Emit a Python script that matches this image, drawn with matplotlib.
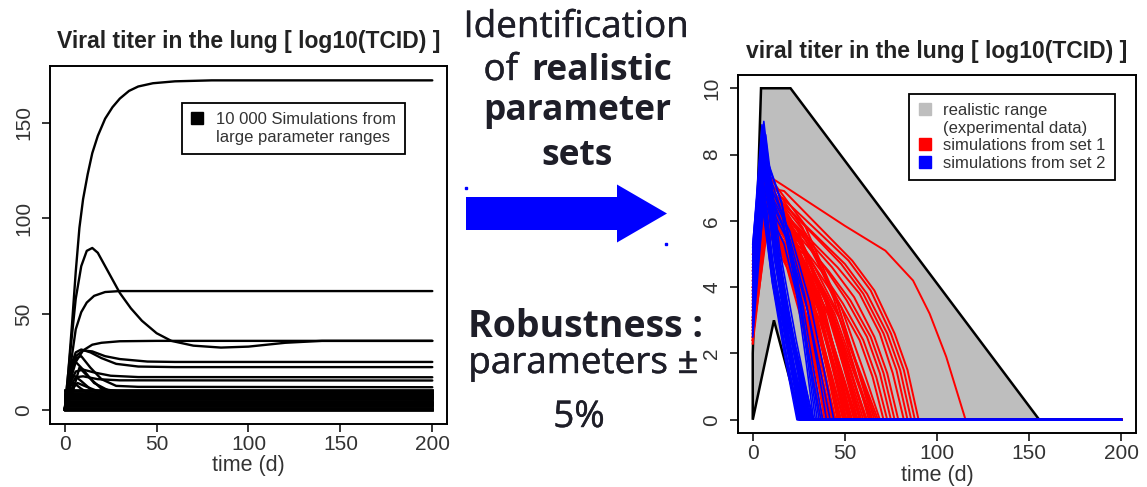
"""Viral titer simulations: all parameter sets vs. realistic ones (two R-style panels)."""
import matplotlib
matplotlib.use("Agg")
import matplotlib.pyplot as plt
import matplotlib.patheffects as pe
from matplotlib.lines import Line2D
from matplotlib.patches import FancyArrow, Polygon

plt.rcParams["font.family"] = ["Liberation Sans", "DejaVu Sans"]

# ---------------- left panel: 10 000 simulations, large parameter ranges
LEFT_CURVES = [
    [(0, 0), (2, 20), (4, 45), (6, 72), (8, 95), (10, 110), (12.5, 123), (15, 134), (18, 143),
     (22, 152), (26, 158), (30, 162.5), (35, 166.5), (40, 168.8), (48, 170.5), (60, 171.5),
     (80, 172), (200, 172)],
    [(0, 0), (3, 30), (6, 58), (9, 75), (12, 83), (15, 84.5), (18, 82), (22, 75), (26, 68),
     (30, 61), (36, 53), (42, 46.5), (50, 40), (58, 36), (70, 33.5), (85, 32.5), (100, 33),
     (120, 35), (140, 36), (200, 36)],
    [(0, 0), (3, 22), (6, 42), (9, 51), (12, 56), (16, 59.5), (22, 61.5), (30, 62), (200, 62)],
    [(0, 0), (3, 15), (6, 25), (10, 31), (15, 34), (20, 35), (30, 35.8), (50, 36), (200, 36)],
    [(0, 0), (3, 20), (6, 28), (10, 31), (15, 30.5), (22, 28), (30, 26.5), (45, 25.2), (60, 25), (200, 25)],
    [(0, 0), (3, 22), (6, 30), (9, 31.5), (14, 30), (20, 27), (28, 24), (40, 22.6), (60, 22.3), (200, 22.3)],
    [(0, 0), (3, 14), (6, 20), (10, 21), (16, 19.5), (25, 17.8), (40, 17.1), (200, 17)],
    [(0, 0), (3, 12), (6, 17), (10, 17.5), (18, 16), (30, 15.4), (200, 15.3)],
    [(0, 0), (3, 18), (6, 27), (9, 28), (14, 22), (20, 16), (28, 12.5), (40, 12), (200, 11.8)],
    [(0, 0), (3, 20), (6, 25), (10, 21), (16, 14), (24, 10), (35, 8.5), (200, 8)],
    [(0, 0), (2, 12), (5, 18), (9, 15), (15, 10), (25, 7), (200, 6.5)],
    [(0, 0), (3, 10), (7, 14), (12, 12), (20, 9), (200, 8.8)],
    [(0, 0), (4, 8), (8, 22), (12, 18), (20, 11), (30, 9.5), (200, 9)],
    [(0, 0), (2, 6), (5, 14), (9, 11), (16, 7), (200, 5.5)],
]
BAND_T = [0, 200]
BAND_LEVELS = [0.0, 0.6, 1.2, 1.8, 2.4, 3.0, 3.6, 4.2, 4.8, 5.4, 6.0, 6.6, 7.2, 7.8, 8.4, 9.0, 9.6, 10.2]

# ---------------- right panel: realistic range and retained parameter sets
RANGE_T = [0, 0, 4.5, 20.5, 155.5, 26, 11.5, 0]
RANGE_Y = [0, 2, 10, 10, 0, 0, 3, 0]

RED_SIMS = [
    [(0, 2.5), (6, 6.8), (10, 7.3), (17, 7.05), (50, 5.85), (72, 5.1), (87, 4.2), (96, 3.2), (105, 1.9), (115.5, 0), (200, 0)],
    [(0, 3.0), (8, 7.0), (17, 6.9), (54, 4.8), (66, 3.9), (77, 2.6), (84, 1.5), (90, 0), (200, 0)],
    [(0, 2.8), (7, 6.6), (16, 6.7), (52, 4.8), (64, 3.9), (75, 2.6), (82, 1.5), (88, 0), (200, 0)],
    [(0, 3.4), (8, 6.9), (15, 6.6), (50, 4.7), (62, 3.8), (73, 2.6), (80, 1.5), (86, 0), (200, 0)],
    [(0, 2.6), (7, 7.1), (17, 6.5), (48, 4.7), (60, 3.8), (71, 2.6), (78, 1.5), (84, 0), (200, 0)],
    [(0, 3.8), (6, 6.4), (14, 6.4), (46, 4.6), (58, 3.8), (69, 2.6), (76, 1.4), (82, 0), (200, 0)],
    [(0, 2.4), (8, 6.8), (16, 6.3), (43, 4.6), (55, 3.7), (66, 2.5), (73, 1.4), (79, 0), (200, 0)],
    [(0, 4.2), (7, 6.5), (15, 6.2), (41, 4.5), (53, 3.6), (64, 2.5), (71, 1.4), (77, 0), (200, 0)],
    [(0, 3.1), (9, 7.2), (16, 6.4), (39, 4.6), (51, 3.6), (62, 2.5), (69, 1.4), (75, 0), (200, 0)],
    [(0, 2.9), (8, 6.6), (15, 6.1), (37, 4.5), (49, 3.5), (60, 2.4), (67, 1.3), (73, 0), (200, 0)],
    [(0, 3.6), (7, 6.9), (14, 6.3), (35, 4.5), (47, 3.5), (58, 2.4), (65, 1.3), (71, 0), (200, 0)],
    [(0, 2.5), (8, 6.8), (29, 5.4), (48, 3.4), (60, 1.5), (69, 0), (200, 0)],
    [(0, 3.3), (7, 6.2), (28.4, 4.95), (46.7, 3.1), (58.9, 1.35), (68, 0), (200, 0)],
    [(0, 4.0), (7, 6.5), (28, 5.2), (46, 3.25), (58, 1.4), (67, 0), (200, 0)],
    [(0, 3.0), (9, 7.0), (29, 5.6), (46, 3.5), (57.5, 1.5), (66, 0), (200, 0)],
    [(0, 3.9), (8, 7.4), (28, 5.9), (45, 3.7), (56.5, 1.6), (65, 0), (200, 0)],
    [(0, 4.5), (7, 6.4), (27.1, 5.1), (44.4, 3.2), (55.9, 1.4), (64.5, 0), (200, 0)],
    [(0, 2.3), (6, 6.2), (26, 5.0), (44, 3.1), (55, 1.4), (64, 0), (200, 0)],
    [(0, 3.5), (8, 7.3), (27, 5.8), (44, 3.65), (55, 1.6), (63, 0), (200, 0)],
    [(0, 4.6), (7, 6.0), (26, 4.8), (43, 3.0), (54, 1.3), (62, 0), (200, 0)],
    [(0, 2.8), (8, 6.6), (26.7, 5.3), (42.8, 3.3), (53.5, 1.45), (61.5, 0), (200, 0)],
    [(0, 2.3), (9, 6.5), (27, 5.2), (43, 3.25), (53, 1.45), (61, 0), (200, 0)],
    [(0, 2.7), (8, 6.6), (26, 5.3), (42, 3.3), (52, 1.45), (60, 0), (200, 0)],
    [(0, 3.2), (6, 6.9), (24.5, 5.5), (40.5, 3.45), (51, 1.5), (59, 0), (200, 0)],
    [(0, 3.3), (7, 6.9), (25, 5.5), (40.5, 3.45), (50.8, 1.5), (58.5, 0), (200, 0)],
    [(0, 4.3), (9, 6.3), (26, 5.0), (41, 3.15), (50.5, 1.4), (58, 0), (200, 0)],
    [(0, 2.4), (7, 7.1), (24.5, 5.7), (39.5, 3.55), (49.5, 1.55), (57, 0), (200, 0)],
    [(0, 4.0), (8, 6.0), (25, 4.8), (39.5, 3.0), (49.2, 1.3), (56.5, 0), (200, 0)],
    [(0, 3.8), (8, 5.9), (25, 4.7), (39, 2.95), (49, 1.3), (56, 0), (200, 0)],
    [(0, 2.7), (6, 6.5), (23.3, 5.2), (38.2, 3.25), (48.1, 1.45), (55.5, 0), (200, 0)],
    [(0, 2.9), (6, 6.7), (23, 5.4), (38, 3.35), (47.5, 1.5), (55, 0), (200, 0)],
    [(0, 5.0), (7, 6.4), (23.5, 5.1), (37.5, 3.2), (47, 1.4), (54, 0), (200, 0)],
    [(0, 3.1), (9, 7.1), (24.6, 5.7), (37.9, 3.55), (46.8, 1.55), (53.5, 0), (200, 0)],
    [(0, 2.6), (8, 7.0), (24, 5.6), (37, 3.5), (46, 1.5), (53, 0), (200, 0)],
    [(0, 4.2), (7, 6.3), (22.9, 5.05), (36.6, 3.15), (45.7, 1.4), (52.5, 0), (200, 0)],
    [(0, 3.4), (6, 6.1), (22, 4.9), (36, 3.05), (45, 1.35), (52, 0), (200, 0)],
    [(0, 4.1), (9, 6.6), (23.5, 5.3), (36.5, 3.3), (44.5, 1.45), (51, 0), (200, 0)],
    [(0, 2.5), (8, 6.8), (22.9, 5.45), (35.6, 3.4), (44.1, 1.5), (50.5, 0), (200, 0)],
    [(0, 2.8), (7, 6.9), (22, 5.5), (35, 3.45), (43.5, 1.5), (50, 0), (200, 0)],
    [(0, 3.5), (6, 6.0), (21.2, 4.8), (34.3, 3.0), (43, 1.3), (49.5, 0), (200, 0)],
    [(0, 3.7), (6, 6.3), (21, 5.0), (34, 3.15), (42.5, 1.4), (49, 0), (200, 0)],
    [(0, 2.5), (8, 5.8), (22, 4.6), (34, 2.9), (42, 1.3), (48, 0), (200, 0)],
    [(0, 2.9), (7, 7.0), (21.2, 5.6), (33.3, 3.5), (41.4, 1.55), (47.5, 0), (200, 0)],
    [(0, 4.5), (7, 6.6), (21, 5.3), (33, 3.3), (41, 1.45), (47, 0), (200, 0)],
    [(0, 4.7), (8, 6.4), (21.5, 5.1), (33, 3.2), (40.7, 1.4), (46.5, 0), (200, 0)],
    [(0, 3.0), (6, 7.2), (20, 5.75), (32, 3.6), (40, 1.6), (46, 0), (200, 0)],
    [(0, 3.3), (8, 6.2), (21, 5.0), (32, 3.1), (39.5, 1.35), (45, 0), (200, 0)],
    [(0, 2.4), (6, 6.2), (19.5, 4.95), (31, 3.1), (38.7, 1.35), (44.5, 0), (200, 0)],
    [(0, 2.7), (7, 6.5), (20, 5.2), (31, 3.25), (38.5, 1.45), (44, 0), (200, 0)],
    [(0, 3.7), (9, 6.9), (21.1, 5.5), (31.4, 3.45), (38.3, 1.5), (43.5, 0), (200, 0)],
    [(0, 4.0), (6, 6.0), (19, 4.8), (30, 3.0), (37.5, 1.3), (43, 0), (200, 0)],
    [(0, 2.4), (7, 6.8), (19, 5.4), (30, 3.4), (37, 1.5), (42, 0), (200, 0)],
    [(0, 3.0), (7, 5.9), (19.1, 4.7), (29.4, 2.95), (36.3, 1.3), (41.5, 0), (200, 0)],
    [(0, 3.6), (6, 6.3), (18, 5.0), (29, 3.15), (36, 1.4), (41, 0), (200, 0)],
    [(0, 4.4), (6, 6.5), (18.1, 5.2), (28.4, 3.25), (35.3, 1.45), (40.5, 0), (200, 0)],
    [(0, 4.8), (8, 5.7), (19, 4.55), (29, 2.85), (35, 1.25), (40, 0), (200, 0)],
    [(0, 2.6), (8, 6.7), (18.9, 5.35), (28.2, 3.35), (34.4, 1.5), (39, 0), (200, 0)],
    [(0, 3.1), (6, 6.4), (17, 5.1), (27, 3.2), (33, 1.4), (38, 0), (200, 0)],
    [(0, 3.9), (7, 6.0), (17.5, 4.8), (26.5, 3.0), (32.5, 1.3), (37, 0), (200, 0)],
]

BLUE_SIMS = [
    [(0, 5.3), (6, 9.0), (13.2, 5.4), (21.6, 2.5), (30, 0), (200, 0)],
    [(0, 4.8), (5, 8.6), (12, 5.2), (20, 2.4), (28, 0), (200, 0)],
    [(0, 3.5), (5, 8.2), (11.6, 4.9), (19.3, 2.3), (27, 0), (200, 0)],
    [(0, 4.2), (6, 8.8), (13, 5.3), (21, 2.5), (29, 0), (200, 0)],
    [(0, 3.0), (4, 7.9), (10.6, 4.7), (18.3, 2.2), (26, 0), (200, 0)],
    [(0, 5.0), (6, 8.4), (13.5, 5.0), (22, 2.35), (31, 0), (200, 0)],
    [(0, 2.8), (7, 8.0), (14.5, 4.8), (23, 2.25), (32, 0), (200, 0)],
    [(0, 4.5), (4, 7.5), (10.3, 4.5), (17.6, 2.1), (25, 0), (200, 0)],
    [(0, 2.6), (5, 7.2), (12, 4.3), (20, 2.0), (28, 0), (200, 0)],
    [(0, 3.8), (6, 7.7), (14, 4.6), (23.5, 2.15), (33, 0), (200, 0)],
    [(0, 5.2), (5, 8.9), (11.6, 5.3), (19.3, 2.5), (27, 0), (200, 0)],
    [(0, 3.3), (5, 6.9), (12.5, 4.1), (21, 1.9), (30, 0), (200, 0)],
    [(0, 4.0), (6, 8.5), (12, 5.1), (19, 2.4), (26, 0), (200, 0)],
    [(0, 2.9), (4, 7.4), (11.5, 4.4), (20, 2.1), (29, 0), (200, 0)],
    [(0, 4.6), (5, 8.1), (12.8, 4.9), (22, 2.3), (31, 0), (200, 0)],
    [(0, 3.6), (5, 6.8), (10.7, 4.1), (17.4, 1.9), (24, 0), (200, 0)],
    [(0, 4.4), (5, 8.7), (11.75, 5.2), (19.6, 2.45), (27.5, 0), (200, 0)],
    [(0, 3.2), (6, 8.3), (13, 5.0), (21.3, 2.3), (29.5, 0), (200, 0)],
    [(0, 5.1), (4, 8.0), (10.75, 4.8), (18.6, 2.25), (26.5, 0), (200, 0)],
    [(0, 2.8), (6, 7.8), (13.6, 4.7), (22.6, 2.2), (31.5, 0), (200, 0)],
    [(0, 3.9), (5, 7.6), (10.9, 4.55), (17.7, 2.1), (24.5, 0), (200, 0)],
    [(0, 4.7), (5, 8.0), (12, 4.8), (20.3, 2.25), (28.5, 0), (200, 0)],
    [(0, 3.7), (7, 8.6), (14.6, 5.15), (23.6, 2.4), (32.5, 0), (200, 0)],
    [(0, 3.4), (4, 7.0), (10.5, 4.2), (18, 2.0), (25.5, 0), (200, 0)],
    [(0, 4.1), (6, 7.5), (13.4, 4.5), (21.9, 2.1), (30.5, 0), (200, 0)],
    [(0, 2.6), (6, 8.1), (15.8, 6.5), (24.2, 4.05), (29.8, 1.8), (34, 0), (200, 0)],
    [(0, 3.1), (6, 7.3), (16.5, 5.85), (25.5, 3.65), (31.5, 1.6), (36, 0), (200, 0)],
    [(0, 4.4), (7, 7.0), (18, 5.6), (27, 3.5), (33, 1.55), (38, 0), (200, 0)],
    [(0, 2.7), (5, 7.6), (17, 6.1), (28, 3.8), (35, 1.7), (40, 0), (200, 0)],
    [(0, 3.9), (6, 6.8), (18.6, 5.45), (29.4, 3.4), (36.6, 1.5), (42, 0), (200, 0)],
    [(0, 3.0), (7, 7.1), (20, 5.7), (31, 3.55), (38.5, 1.55), (44, 0), (200, 0)],
    [(0, 4.9), (5, 8.3), (15.5, 6.6), (24.5, 4.15), (30.5, 1.8), (35, 0), (200, 0)],
    [(0, 2.5), (6, 6.6), (17, 5.3), (26, 3.3), (32, 1.45), (37, 0), (200, 0)],
    [(0, 3.4), (6, 7.9), (15.5, 6.3), (23.5, 3.95), (29, 1.75), (33, 0), (200, 0)],
]

X_TICKS = [0, 50, 100, 150, 200]
LEFT_Y_TICKS = [0, 50, 100, 150]
RIGHT_Y_TICKS = [0, 2, 4, 6, 8, 10]

W, H, DPI = 1147, 487, 100
fig = plt.figure(figsize=(W / DPI, H / DPI), dpi=DPI)
fig.patch.set_facecolor("white")


def px_axes(x0, y0, x1, y1):
    # axes from pixel box (top-left origin)
    return fig.add_axes([x0 / W, 1 - y1 / H, (x1 - x0) / W, (y1 - y0) / H])


def r_style(ax, yticks):
    for s in ax.spines.values():
        s.set_linewidth(1.4)
        s.set_color("black")
    ax.set_xticks(X_TICKS)
    ax.set_yticks(yticks)
    ax.tick_params(direction="out", length=6, width=1.1, labelsize=15, colors="black",
                   labelcolor="#333333")
    ax.tick_params(axis="x", pad=2)
    ax.tick_params(axis="y", pad=6)
    for lab in ax.get_yticklabels():
        lab.set_rotation(90)
        lab.set_va("center")
    ax.set_xlabel("time (d)", fontsize=15.5, color="#333333", labelpad=1)


def square(color):
    return Line2D([], [], marker="s", linestyle="none", color=color, markersize=9)


blank = Line2D([], [], linestyle="none")

# left
axl = px_axes(50, 66, 447, 424)
for crv in LEFT_CURVES:
    axl.plot([p[0] for p in crv], [p[1] for p in crv], color="black", lw=1.7,
             solid_capstyle="round")
for lvl in BAND_LEVELS:
    axl.plot(BAND_T, [lvl, lvl], color="black", lw=2.0)
axl.set_xlim(-8, 208)
axl.set_ylim(-7.4, 179.5)
r_style(axl, LEFT_Y_TICKS)
axl.set_title("Viral titer in the lung [ log10(TCID) ]", fontsize=16.5, fontweight="bold",
              color="#222222", pad=13)
leg = axl.legend([square("black"), blank],
                 ["10 000 Simulations from", "large parameter ranges"],
                 loc="upper right", bbox_to_anchor=(0.894, 0.897), borderaxespad=0,
                 fancybox=False, edgecolor="black", framealpha=1, fontsize=12,
                 handlelength=0.8, handletextpad=0.7, labelspacing=0.15, borderpad=0.55)
leg.get_frame().set_linewidth(1.3)
for t in leg.get_texts():
    t.set_color("#333333")

# right
axr = px_axes(738, 75, 1136, 433)
axr.add_patch(Polygon(list(zip(RANGE_T, RANGE_Y)), closed=True, facecolor="#bebebe",
                      edgecolor="black", lw=1.8, zorder=1))
for crv in RED_SIMS:
    axr.plot([p[0] for p in crv], [p[1] for p in crv], color="#ff0000", lw=1.4, zorder=2)
for crv in BLUE_SIMS:
    axr.plot([p[0] for p in crv], [p[1] for p in crv], color="#0000ff", lw=1.2, zorder=3)
axr.set_xlim(-8, 208)
axr.set_ylim(-0.4, 10.4)
r_style(axr, RIGHT_Y_TICKS)
axr.set_title("viral titer in the lung [ log10(TCID) ]", fontsize=16.5, fontweight="bold",
              color="#222222", pad=12)
leg = axr.legend([square("#bebebe"), blank, square("#ff0000"), square("#0000ff")],
                 ["realistic range", "(experimental data)", "simulations from set 1",
                  "simulations from set 2"],
                 loc="upper right", bbox_to_anchor=(0.947, 0.947), borderaxespad=0,
                 fancybox=False, edgecolor="black", framealpha=1, fontsize=12,
                 handlelength=0.8, handletextpad=0.7, labelspacing=0.15, borderpad=0.55)
leg.get_frame().set_linewidth(1.3)
for t in leg.get_texts():
    t.set_color("#333333")

# middle annotations, pixel coordinates
ov = fig.add_axes([0, 0, 1, 1], zorder=5)
ov.set_xlim(0, W)
ov.set_ylim(H, 0)
ov.axis("off")
ov.patch.set_alpha(0)

ink = "#1e1e28"
heavier = [pe.withStroke(linewidth=0.3, foreground=ink)]
mid = dict(family=["Open Sans", "DejaVu Sans"], color=ink, va="baseline")
ov.text(576, 37, "Identification", ha="center", fontsize=26.5, path_effects=heavier, **mid)
ov.text(518, 80, "of", ha="right", fontsize=26.5, path_effects=heavier, **mid)
ov.text(531, 80, "realistic", ha="left", fontweight="bold", fontsize=25.5, **mid)
ov.text(577, 120, "parameter", ha="center", fontweight="bold", fontsize=25.5, **mid)
ov.text(577, 165, "sets", ha="center", fontweight="bold", fontsize=25.5, **mid)
ov.text(585, 337, "Robustness :", ha="center", fontweight="bold", fontsize=27, **mid)
ov.text(583, 373, "parameters \u00b1", ha="center", fontsize=26.5, path_effects=heavier, **mid)
ov.text(579, 427, "5%", ha="center", fontsize=26.5, path_effects=heavier, **mid)

ov.add_patch(FancyArrow(466, 213.5, 201, 0, width=33, head_width=58, head_length=50,
                        length_includes_head=True, color="#0000ff", lw=0))
ov.plot([466, 666], [188, 244], linestyle="none", marker="s", markersize=1.5, color="#0000ff")

fig.savefig("out.png", dpi=DPI, facecolor="white")
